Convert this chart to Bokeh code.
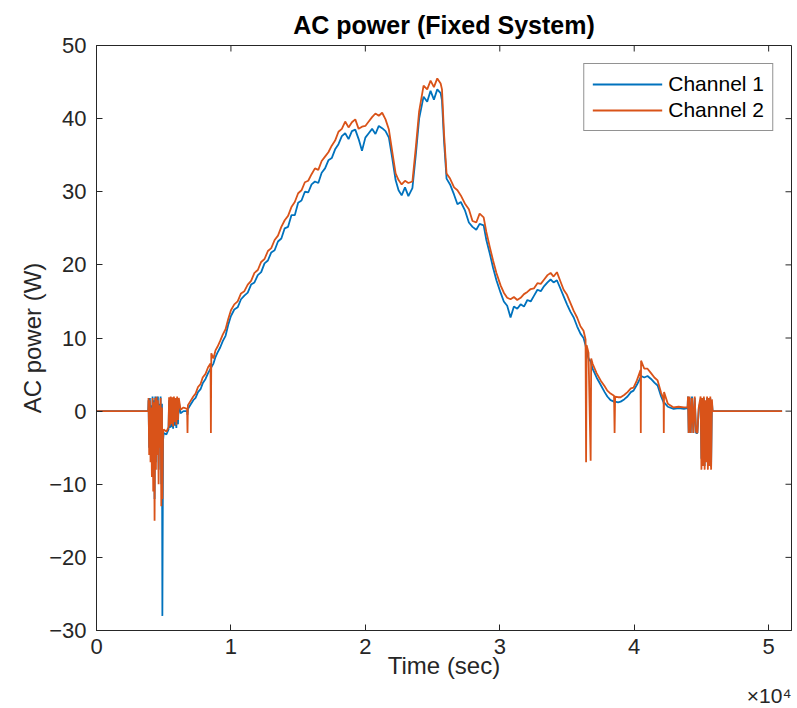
import math
from bokeh.plotting import figure
from bokeh.models import FixedTicker, Range1d, Legend, LegendItem, Title
from bokeh.embed import file_html
from bokeh.resources import INLINE

# ---------------- data ----------------
time_s = [
    0, 3850,
    3870, 3920, 3970, 4020, 4070, 4120, 4170, 4220, 4270, 4320, 4370, 4420,
    4470, 4520, 4570, 4620, 4670, 4720, 4770, 4820, 4870, 4900, 4950, 5000,
    5200, 5360, 5400, 5460, 5520, 5580, 5640, 5700, 5760, 5820, 5880, 5940, 6000, 6060, 6120,
    6250, 6470, 6740, 6770, 6800, 7000, 7200, 7370, 7550, 7740, 7900, 8110,
    8300, 8480, 8510, 8540, 8700, 8850, 9000, 9200, 9400, 9600, 9800,
    10000, 10250, 10500, 10750, 11000, 11250, 11500, 11750, 12000, 12250, 12500, 12750,
    13000, 13250, 13500, 13750, 14000, 14250, 14500, 14750, 15000, 15250, 15500, 15750,
    16000, 16250, 16500, 16750, 17000, 17250, 17500, 17750, 18000, 18250, 18500, 18750, 19000,
    19250, 19500, 19750, 20000, 20250, 20500, 20750, 21000, 21250, 21500, 21750, 22000, 22250,
    22470, 22700, 22950, 23200, 23500, 23750, 24000, 24330, 24600, 24850, 25100, 25350, 25600, 25700,
    25850, 26040, 26300, 26600, 26850, 27100, 27400, 27700, 27970, 28250, 28500, 28800, 29000, 29250,
    29500, 29750, 30060, 30300, 30550, 30800, 31050, 31300, 31550, 31800, 32050, 32300, 32550, 32800,
    33050, 33300, 33550, 33780, 34000, 34250, 34500, 34750, 35000, 35250, 35500, 35750, 36000, 36230,
    36380, 36420, 36460, 36600, 36760, 36800, 36900, 37200, 37500, 37800, 38000, 38240, 38500,
    38540, 38580, 38800, 38990, 39250, 39500, 39750, 39950, 40200, 40470, 40490, 40510, 40750,
    40990, 41250, 41500, 41740, 42000, 42185, 42200, 42220, 42500, 42930, 43300, 43700, 43970,
    44000, 44050, 44120, 44200, 44300, 44400, 44500, 44600, 44700, 44800,
    44940, 45000, 45060, 45120, 45180, 45240, 45300, 45360, 45420, 45480, 45540, 45600, 45660,
    45720, 45780, 45830, 51000,
]

channel_1 = [
    0, 0,
    1.5, -5, 1.8, -6, 0.8, -7, 2.0, -9, 1.5, -12, 2.0, -7,
    1.8, -5, 2.0, -8, 1.0, -4, 2.0, -10, 1.0, -28, -4, -3,
    -3.2, -2.5, 1.5, -2.3, 1.8, -2.2, 1.6, -2.4, 1.7, -2.0, 1.5, -2.3, 1.6, -1.8, 1.4,
    -0.3, 0.0, 0.0, -0.5, 0.3, 0.9, 1.5, 1.8, 2.6, 3.0, 3.8, 4.4,
    5.2, 5.8, 5.6, 6.0, 6.5, 7.4, 8.0, 8.7, 9.6, 10.3, 11.8,
    13.0, 13.9, 14.2, 15.3, 15.8, 16.2, 17.3, 17.6, 18.6, 19.0, 20.2, 20.6,
    21.7, 22.0, 23.2, 23.6, 25.0, 25.2, 26.8, 26.8, 28.5, 28.8, 30.0, 29.9,
    31.0, 31.4, 31.2, 32.6, 33.2, 34.3, 34.6, 35.8, 36.5, 37.6, 38.0, 37.2, 38.3,
    38.5, 37.2, 35.6, 37.4, 38.0, 38.6, 37.9, 39.0, 38.7, 38.3, 37.4, 34.6, 31.6,
    30.2, 29.5, 30.6, 29.4, 30.5, 35.0, 40.0, 43.0, 42.3, 43.8, 42.6, 44.0, 43.5, 42.5,
    37.0, 31.8, 31.0, 29.6, 28.3, 28.6, 27.5, 25.8, 25.2, 24.8, 25.6, 25.4, 23.4, 21.6,
    19.6, 17.9, 16.2, 15.0, 14.4, 12.8, 14.3, 14.0, 14.6, 14.3, 15.2, 15.0, 15.8, 16.6,
    16.4, 17.1, 17.6, 18.0, 17.6, 17.9, 16.8, 15.7, 14.6, 13.6, 12.8, 11.6, 10.6, 10.0,
    9.0, 8.6, 8.2, 7.2, 6.8, 6.5, 5.8, 4.6, 3.6, 2.6, 2.0, 1.5, 1.3,
    1.2, 1.3, 1.2, 1.3, 1.6, 2.0, 2.6, 2.8, 3.6, 4.6, 4.6, 4.8, 4.6,
    4.8, 4.4, 3.9, 3.5, 2.0, 1.2, 1.0, 1.2, 0.6, 0.3, 0.4, 0.3, 0.4,
    2.0, -3.0, 1.8, -3.0, 2.0, -3.0, 1.8, -3.0, -3.0, 0.3,
    1.5, -6.5, 1.5, -7.0, 1.8, -7.5, 1.2, -6.8, 1.8, -7.5, 1.5, -7.2, 1.8,
    -7.6, 1.2, 0, 0,
]

channel_2 = [
    0, 0,
    1.8, -6, 1.5, -7, 0.5, -9, 1.8, -11, 1.2, -15, 1.8, -8,
    2.0, -6, 1.5, -10, 0.8, -5, 1.8, -13, 0.5, -12, -3, -2.5,
    -2.8, -2.2, 1.9, -2.0, 2.0, -1.8, 1.9, -2.1, 2.0, -1.5, 1.8, -1.9, 2.0, -1.2, 1.8,
    0.2, 0.5, 0.3, -3.0, 0.8, 1.4, 2.0, 2.4, 3.3, 3.7, 4.6, 5.1,
    6.0, 6.5, -3.0, 7.9, 7.2, 8.3, 8.8, 9.6, 10.5, 11.2, 12.6,
    13.8, 14.6, 15.0, 16.1, 16.4, 17.3, 17.8, 18.9, 19.3, 20.4, 20.8, 21.9,
    22.3, 23.4, 24.0, 25.2, 26.1, 26.7, 27.9, 28.6, 29.8, 30.2, 31.3, 31.5,
    32.4, 33.2, 33.0, 34.2, 34.8, 35.4, 36.3, 37.0, 38.2, 38.6, 39.6, 38.8, 39.5,
    39.9, 38.6, 38.9, 39.0, 39.6, 40.2, 40.7, 40.4, 40.8, 39.9, 38.5, 35.5, 32.5,
    31.6, 31.0, 31.5, 31.2, 31.4, 36.0, 41.0, 44.5, 44.0, 45.2, 44.3, 45.5, 44.8, 44.0,
    38.0, 32.5, 31.8, 30.6, 30.2, 29.5, 28.4, 27.6, 26.0, 25.8, 27.0, 26.5, 24.5, 22.5,
    20.6, 18.9, 17.2, 16.2, 15.5, 15.3, 15.6, 15.2, 15.5, 16.0, 16.3, 16.7, 16.8, 17.5,
    17.4, 18.0, 18.6, 18.9, 18.4, 19.0, 17.8, 16.6, 15.9, 14.8, 13.7, 12.8, 11.6, 11.0,
    9.8, -7.0, 9.0, 8.0, -6.8, 7.2, 6.5, 5.2, 4.2, 3.4, 2.8, 2.4, 2.1,
    -3.0, 2.0, 1.9, 1.9, 2.2, 2.6, 3.1, 3.2, 4.2, 5.6, -3.0, 6.9, 5.8,
    5.8, 5.2, 4.6, 4.2, 2.5, 1.6, -3.0, 2.6, 1.0, 0.5, 0.6, 0.5, 0.5,
    2.0, -3.0, 2.0, -3.0, 1.8, -3.0, 2.0, -2.8, -3.0, 0.5,
    2.0, -8.0, 1.8, -7.5, 2.0, -8.0, 1.5, -7.0, 2.0, -8.0, 1.8, -7.5, 2.0,
    -8.0, 1.6, 0, 0,
]

assert len(time_s) == len(channel_1) == len(channel_2), (len(time_s), len(channel_1), len(channel_2))

x_ticks = [0, 10000, 20000, 30000, 40000, 50000]
x_tick_labels = ["0", "1", "2", "3", "4", "5"]
y_ticks = [-30, -20, -10, 0, 10, 20, 30, 40, 50]
series_names = ["Channel 1", "Channel 2"]
x_limits = (0, 51700)
y_limits = (-30, 50)

# ---------------- styling ----------------
AX = "#262626"
FONT = "Liberation Sans"
C1 = "#0072BD"
C2 = "#D95319"

p = figure(width=797, height=708, output_backend="svg", toolbar_location=None,
           x_range=Range1d(*x_limits), y_range=Range1d(*y_limits),
           min_border_left=96, min_border_right=6, min_border_top=45, min_border_bottom=78,
           background_fill_color="white", border_fill_color="white")

p.title.text = "AC power (Fixed System)"
p.title.align = "center"
p.title.text_font = FONT
p.title.text_font_size = "25px"
p.title.text_font_style = "bold"
p.title.text_color = "black"
p.title.standoff = 14

p.xgrid.visible = False
p.ygrid.visible = False
p.outline_line_color = AX
p.outline_line_width = 1


def style_axis(ax, ticks):
    ax.ticker = FixedTicker(ticks=ticks)
    ax.axis_line_color = AX
    ax.major_tick_line_color = AX
    ax.major_tick_in = 6
    ax.major_tick_out = 0
    ax.minor_tick_line_color = None
    ax.major_label_text_font = FONT
    ax.major_label_text_color = AX
    ax.axis_label_text_font = FONT
    ax.axis_label_text_color = AX
    ax.axis_label_text_font_style = "normal"


xa = p.xaxis[0]
style_axis(xa, x_ticks)
xa.major_label_overrides = {t: s for t, s in zip(x_ticks, x_tick_labels)}
xa.major_label_text_font_size = "22px"
xa.major_label_standoff = 8
xa.axis_label = "Time (sec)"
xa.axis_label_text_font_size = "24px"
xa.axis_label_standoff = -5

ya = p.yaxis[0]
style_axis(ya, y_ticks)
ya.major_label_text_font_size = "22px"
ya.major_label_standoff = 10
ya.axis_label = "AC power (W)"
ya.axis_label_text_font_size = "24px"
ya.axis_label_standoff = 0

# inward ticks on the top and right edges of the box
p.ray(x=x_ticks, y=[y_limits[1]] * len(x_ticks), length=6, length_units="screen",
      angle=-math.pi / 2, line_color=AX, line_width=1)
p.ray(x=[x_limits[1]] * len(y_ticks), y=y_ticks, length=6, length_units="screen",
      angle=math.pi, line_color=AX, line_width=1)

r1 = p.line(time_s, channel_1, line_color=C1, line_width=1.8)
r2 = p.line(time_s, channel_2, line_color=C2, line_width=1.8)

legend = Legend(items=[LegendItem(label=series_names[0], renderers=[r1]),
                       LegendItem(label=series_names[1], renderers=[r2])],
                location="top_right", margin=18,
                border_line_color=AX, border_line_width=1,
                background_fill_color="white", background_fill_alpha=1,
                label_text_font=FONT, label_text_font_size="21px", label_text_color="black",
                glyph_width=70, glyph_height=22, label_height=22, label_standoff=6,
                padding=8, spacing=2)
p.add_layout(legend)

# exponent note under the x axis, right-aligned like MATLAB's "x10^4"
p.add_layout(Title(text="×10⁴", align="right", text_font=FONT, text_font_size="21px",
                   text_font_style="normal", text_color=AX, standoff=0, offset=0), "below")

open("out.html", "w").write(file_html(p, INLINE))
